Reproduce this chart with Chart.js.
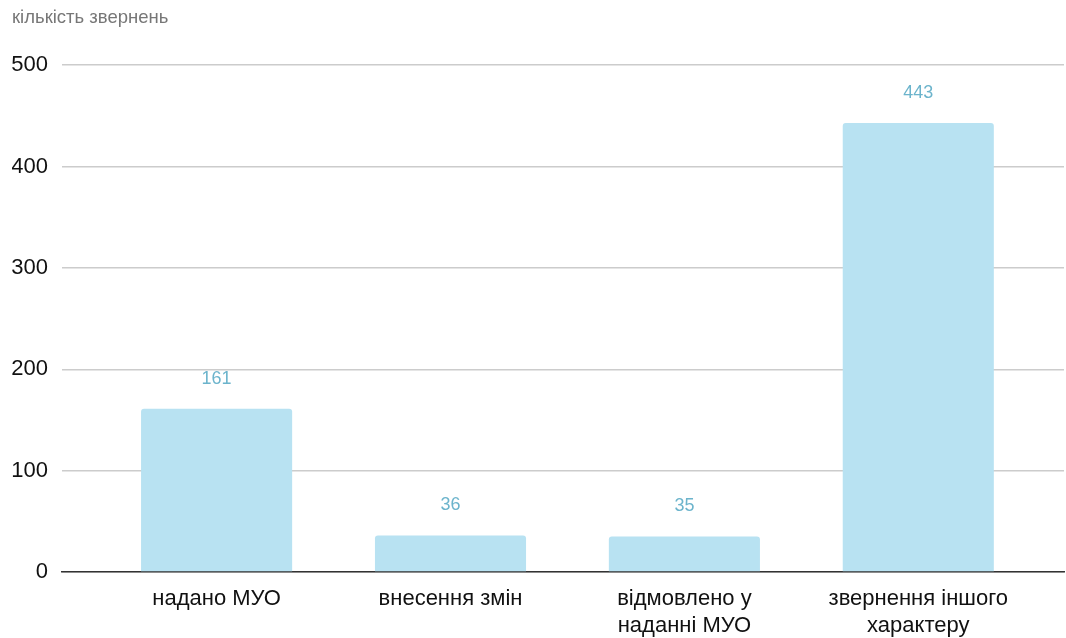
<!DOCTYPE html>
<html>
<head>
<meta charset="utf-8">
<script src="https://cdn.jsdelivr.net/npm/chart.js@4/dist/chart.umd.min.js"></script>
<style>
  html, body { margin: 0; padding: 0; background: #fff; }
  #wrap { width: 1066px; height: 638px; }
</style>
</head>
<body>
<div id="wrap"><canvas id="myBarChart1"></canvas></div>
<script>
var labels = [
    ['надано МУО'],
    ['внесення змін'],
    ['відмовлено у', 'наданні МУО'],
    ['звернення іншого', 'характеру']
];
var values = [161, 36, 35, 443];
var yTicks = [0, 100, 200, 300, 400, 500];
var axisTitle = 'кількість звернень';

// bars sit on positions 0..3 of a linear x axis so the plot can have
// uneven margins left and right, like the original
var points = [];
for (let i = 0; i < values.length; i++) {
    points.push({ x: i, y: values[i] });
}

// puts the number above each bar
var barValues = {
    id: 'barValues',
    afterDatasetsDraw: function(chart) {
        var c = chart.ctx;
        var meta = chart.getDatasetMeta(0);
        c.save();
        c.fillStyle = '#6cb4cc';
        c.font = '18px "Liberation Sans", Arial, sans-serif';
        c.textAlign = 'center';
        c.textBaseline = 'middle';
        meta.data.forEach(function(bar, i) {
            c.fillText(values[i], bar.x, bar.y - 30);
        });
        c.restore();
    }
};

var ctx = document.getElementById('myBarChart1');
var myChart = new Chart(ctx, {
    type: 'bar',
    data: {
        datasets: [{
            data: points,
            backgroundColor: '#b8e2f2',
            borderRadius: { topLeft: 3, topRight: 3 },
            borderSkipped: false,
            barPercentage: 0.646,
            categoryPercentage: 1.0
        }]
    },
    options: {
        responsive: true,
        maintainAspectRatio: false,
        animation: false,
        layout: { padding: { left: 12, right: 2, top: 0, bottom: 0 } },
        plugins: {
            legend: { display: false },
            tooltip: { enabled: false },
            title: {
                display: true,
                text: axisTitle,
                align: 'start',
                color: '#777777',
                font: { family: '"Liberation Sans", Arial, sans-serif', size: 18.5, weight: 'normal' },
                padding: { top: 7, bottom: 36 }
            }
        },
        scales: {
            x: {
                type: 'linear',
                min: -0.661,
                max: 3.623,
                offset: false,
                afterBuildTicks: function(axis) {
                    axis.ticks = labels.map(function(l, i) { return { value: i }; });
                },
                afterFit: function(axis) { axis.height = 66; },
                grid: { display: false },
                border: { display: true, color: '#333', width: 1.5 },
                ticks: {
                    color: '#111',
                    font: { family: '"Liberation Sans", Arial, sans-serif', size: 22, lineHeight: 1.22 },
                    padding: 6,
                    maxRotation: 0,
                    autoSkip: false,
                    callback: function(value) { return labels[value]; }
                }
            },
            y: {
                min: yTicks[0],
                max: yTicks[yTicks.length - 1],
                afterBuildTicks: function(axis) {
                    axis.ticks = yTicks.map(function(v) { return { value: v }; });
                },
                afterFit: function(axis) { axis.width = 50; },
                grid: { color: '#cccccc', drawTicks: false, lineWidth: 1.5 },
                border: { display: false },
                ticks: {
                    color: '#111',
                    font: { family: '"Liberation Sans", Arial, sans-serif', size: 22 },
                    padding: 14
                }
            }
        }
    },
    plugins: [barValues]
});
</script>
</body>
</html>
